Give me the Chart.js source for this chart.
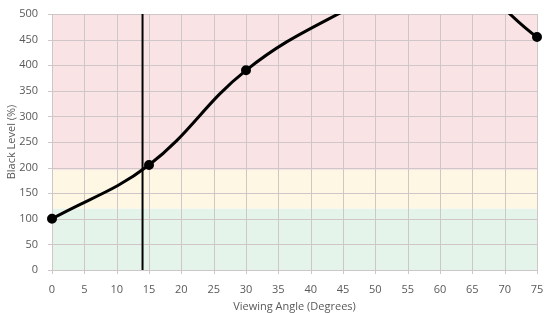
<!DOCTYPE html>
<html>
<head>
<meta charset="utf-8">
<script src="https://cdn.jsdelivr.net/npm/chart.js@4.4.0/dist/chart.umd.min.js"></script>
<style>
  html, body { margin: 0; padding: 0; background: #ffffff; }
  #wrap { width: 557px; height: 313px; position: relative; }
</style>
</head>
<body>
<div id="wrap"><canvas id="chart"></canvas></div>
<script>
// Viewing angle samples (degrees) and measured black level (%)
const angles = [0, 15, 30, 45, 60, 75];
const blackLevel = [100, 205, 390, 505, 590, 455];

// Marker line for the cutoff angle
const cutoffAngle = 14;

// Colored bands behind the plot: [from, to]
const bandRanges = [[0, 120], [120, 195], [195, 500]];
const bandColors = ['#e4f4ea', '#fef7e4', '#f9e3e4'];

const xTicks = [0, 5, 10, 15, 20, 25, 30, 35, 40, 45, 50, 55, 60, 65, 70, 75];
const yTicks = [0, 50, 100, 150, 200, 250, 300, 350, 400, 450, 500];
const yMax = 500;

const bandsPlugin = {
	id: 'bands',
	beforeDatasetsDraw(chart) {
		const { ctx, chartArea, scales } = chart;
		ctx.save();
		bandRanges.forEach(function(r, i) {
			const top = scales.y.getPixelForValue(r[1]);
			const bottom = scales.y.getPixelForValue(r[0]);
			ctx.fillStyle = bandColors[i];
			ctx.fillRect(chartArea.left, top, chartArea.right - chartArea.left, bottom - top);
		});
		// grid on top of the bands
		ctx.strokeStyle = '#cfc6c8';
		ctx.lineWidth = 1;
		xTicks.forEach(function(v) {
			const x = Math.round(scales.x.getPixelForValue(v)) + 0.5;
			ctx.beginPath();
			ctx.moveTo(x, chartArea.top);
			ctx.lineTo(x, chartArea.bottom + 4);
			ctx.stroke();
		});
		yTicks.forEach(function(v) {
			const y = Math.round(scales.y.getPixelForValue(v)) + 0.5;
			ctx.beginPath();
			ctx.moveTo(chartArea.left - 4, y);
			ctx.lineTo(chartArea.right, y);
			ctx.stroke();
		});
		ctx.restore();
	}
};

const tickFont = { family: 'Open Sans', size: 11 };

new Chart(document.getElementById('chart').getContext('2d'), {
	type: 'line',
	data: {
		datasets: [
			{
				data: angles.map(function(a, i) { return { x: a, y: blackLevel[i] }; }),
				borderColor: '#000000',
				backgroundColor: '#000000',
				borderWidth: 3,
				// markers above the axis max are hidden, as in the original
				pointRadius: function(c) { return blackLevel[c.dataIndex] > yMax ? 0 : 3.5; },
				pointHoverRadius: 3.5,
				tension: 0.4,
				clip: { left: 6, right: 6, top: 0, bottom: 6 }
			},
			{
				data: [{ x: cutoffAngle, y: 0 }, { x: cutoffAngle, y: yMax }],
				borderColor: '#000000',
				borderWidth: 2,
				pointRadius: 0,
				tension: 0
			}
		]
	},
	plugins: [bandsPlugin],
	options: {
		responsive: true,
		maintainAspectRatio: false,
		animation: false,
		layout: { padding: { top: 14, right: 20, left: 0, bottom: 0 } },
		plugins: {
			legend: { display: false },
			tooltip: { enabled: false }
		},
		scales: {
			x: {
				type: 'linear',
				min: 0,
				max: 75,
				afterBuildTicks: function(s) { s.ticks = xTicks.map(function(v) { return { value: v }; }); },
				afterFit: function(s) { s.height = 43; },
				grid: { display: false },
				border: { color: '#bfbfbf' },
				ticks: { color: '#595959', font: tickFont, padding: 5, maxRotation: 0 },
				title: { display: true, text: 'Viewing Angle (Degrees)', color: '#595959', font: { family: 'Open Sans', size: 11 }, padding: { top: 0, bottom: 0 } }
			},
			y: {
				min: 0,
				max: yMax,
				afterBuildTicks: function(s) { s.ticks = yTicks.map(function(v) { return { value: v }; }); },
				afterFit: function(s) { s.width = 52; },
				grid: { display: false },
				border: { color: '#bfbfbf' },
				ticks: { color: '#595959', font: tickFont, padding: 6 },
				title: { display: true, text: 'Black Level (%)', color: '#595959', font: { family: 'Open Sans', size: 11 }, padding: { top: 5, bottom: 0 } }
			}
		}
	}
});
</script>
</body>
</html>
